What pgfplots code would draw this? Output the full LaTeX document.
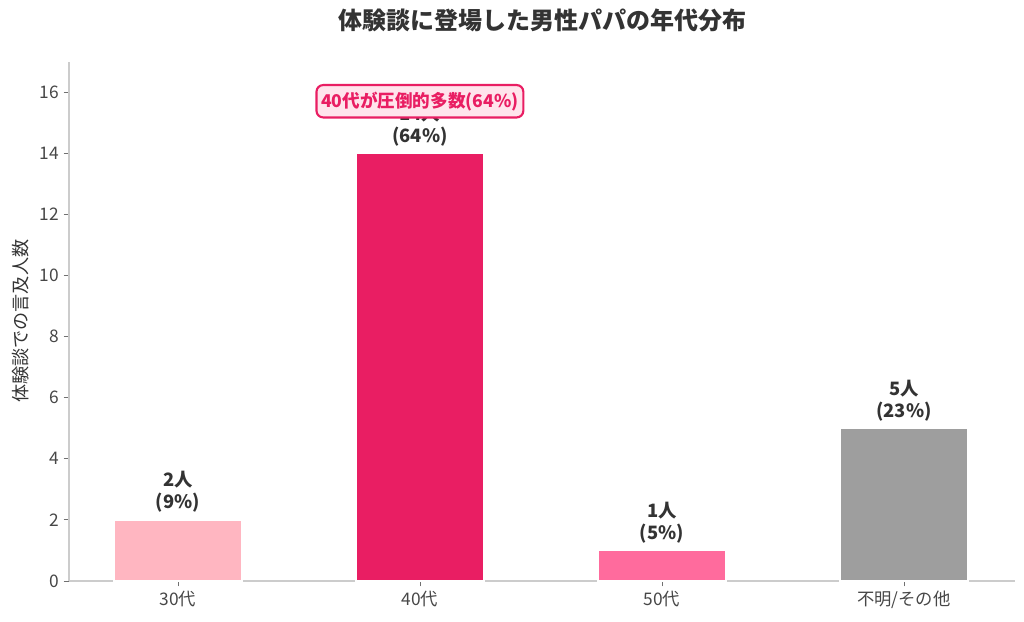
\documentclass[border=0pt]{standalone}
\usepackage{pgfplots}
\pgfplotsset{compat=1.18}
\usepackage{fontspec}
\setmainfont{Noto Sans CJK JP}

\definecolor{c30}{HTML}{FFB6C1}
\definecolor{c40}{HTML}{E91E63}
\definecolor{c50}{HTML}{FF6B9D}
\definecolor{cother}{HTML}{9E9E9E}
\definecolor{txt}{HTML}{333333}
\definecolor{spine}{HTML}{CCCCCC}
\definecolor{boxfill}{HTML}{FFE4EC}

\tikzset{lbl/.style={anchor=south, align=center, font=\fontsize{13.8}{16.5}\selectfont\bfseries, text=txt, yshift=2pt}}

\begin{document}
\begin{tikzpicture}[x=0.75pt,y=0.75pt]
\path[use as bounding box] (-69,-40) rectangle (955,581);
\begin{axis}[
    at={(0,0)}, anchor=south west,
    scale only axis,
    width=709.5pt, height=389.6pt,
    xmin=-0.45, xmax=3.459,
    ymin=0, ymax=17,
    ybar, bar width=0.53, bar shift=0pt,
    xtick={0,1,2,3},
    xticklabels={30代,40代,50代,不明/その他},
    ytick={0,2,...,16},
    axis x line*=bottom, axis y line*=left,
    axis line style={spine, line width=0.9pt},
    tick style={color=txt!70, line width=0.6pt},
    tick align=outside,
    major tick length=4pt,
    x axis line style={-}, y axis line style={-},
    tick label style={font=\fontsize{13}{15}\selectfont, text=txt!90},
    /pgf/number format/assume math mode=true,
    ylabel={体験談での言及人数},
    every axis y label/.style={at={(ticklabel cs:0.5)}, rotate=90, anchor=center,
        yshift=11pt, font=\fontsize{13.6}{16}\selectfont, text=txt},
    clip=false,
]
\addplot[fill=c30, draw=white, line width=1.2pt] coordinates {(0,2)};
\addplot[fill=c40, draw=white, line width=1.2pt] coordinates {(1,14)};
\addplot[fill=c50, draw=white, line width=1.2pt] coordinates {(2,1)};
\addplot[fill=cother, draw=white, line width=1.2pt] coordinates {(3,5)};

\node[lbl] at (axis cs:0,2) {2人\\(9\%)};
\node[lbl] at (axis cs:1,14) {14人\\(64\%)};
\node[lbl] at (axis cs:2,1) {1人\\(5\%)};
\node[lbl] at (axis cs:3,5) {5人\\(23\%)};

\node[draw=c40, fill=boxfill, line width=1.6pt, rounded corners=5pt, text=c40,
      font=\fontsize{13.2}{15}\selectfont\bfseries, inner xsep=3.5pt, inner ysep=5pt]
      at (axis cs:1,15.7) {40代が圧倒的多数(64\%)};
\end{axis}
\node[font=\fontsize{18}{21}\selectfont\bfseries, text=txt] at (473,561) {体験談に登場した男性パパの年代分布};
\end{tikzpicture}
\end{document}
